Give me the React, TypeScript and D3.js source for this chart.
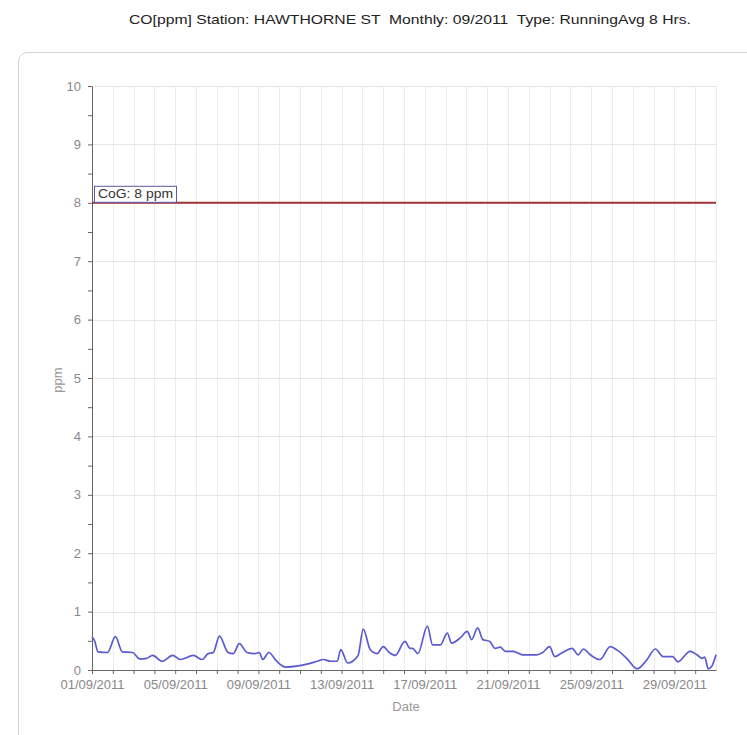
import React, { useEffect, useRef } from 'react';
import * as d3 from 'd3';

// hours since 01/09/2011 00:00 and the 8h running average (ppm)
const hours = [
  0, 3, 7, 18, 27, 35, 47, 55, 63, 70, 81, 93, 102, 117, 127, 134, 140, 147, 157, 163,
  170, 179, 188, 193, 197, 204, 213, 223, 238, 248, 260, 267, 275, 283, 287, 295, 307, 313,
  321, 329, 336, 343, 350, 361, 367, 370, 376, 387, 393, 402, 410, 415, 425, 433, 438, 445,
  451, 459, 465, 471, 477, 486, 497, 513, 520, 528, 534, 542, 554, 561, 567, 575, 586, 598,
  606, 617, 629, 640, 650, 659, 670, 676, 690, 698, 704, 707, 711, 715, 720,
];
const ppm = [
  0.57, 0.5, 0.31, 0.3, 0.57, 0.31, 0.3, 0.19, 0.2, 0.25, 0.15, 0.25, 0.18, 0.25, 0.18, 0.28, 0.3, 0.58, 0.3, 0.28,
  0.45, 0.3, 0.28, 0.3, 0.18, 0.3, 0.15, 0.05, 0.07, 0.1, 0.15, 0.18, 0.15, 0.15, 0.35, 0.12, 0.25, 0.7,
  0.35, 0.28, 0.4, 0.3, 0.25, 0.49, 0.37, 0.37, 0.28, 0.75, 0.43, 0.43, 0.63, 0.46, 0.55, 0.66, 0.52, 0.72,
  0.52, 0.49, 0.37, 0.39, 0.32, 0.32, 0.26, 0.26, 0.3, 0.4, 0.23, 0.29, 0.37, 0.26, 0.36, 0.26, 0.18, 0.4,
  0.34, 0.2, 0.02, 0.17, 0.36, 0.23, 0.23, 0.14, 0.32, 0.26, 0.2, 0.22, 0.02, 0.06, 0.26,
];
const yTicks = [0, 1, 2, 3, 4, 5, 6, 7, 8, 9, 10];
const dayTickLabels = ['01/09/2011', '05/09/2011', '09/09/2011', '13/09/2011', '17/09/2011', '21/09/2011', '25/09/2011', '29/09/2011'];
const limitValue = 8;
const limitLabel = 'CoG: 8 ppm';
const title = 'CO[ppm] Station: HAWTHORNE ST  Monthly: 09/2011  Type: RunningAvg 8 Hrs.';

const parseDay = d3.timeParse('%d/%m/%Y');

const App: React.FC = () => {
  const svgRef = useRef<SVGSVGElement>(null);

  useEffect(() => {
    if (!svgRef.current) return;
    const width = 747;
    const height = 735;
    const svg = d3.select(svgRef.current);
    svg.selectAll('*').remove();
    svg.attr('width', width).attr('height', height);

    const font = 'Arial, "Liberation Sans", sans-serif';
    const start = new Date(2011, 8, 1);
    const end = new Date(2011, 9, 1);

    const x = d3.scaleTime().domain([start, end]).range([92, 716]);
    const y = d3.scaleLinear().domain([0, 10]).range([670, 86]);

    // title
    svg.append('text')
      .attr('x', 410).attr('y', 24)
      .attr('text-anchor', 'middle')
      .attr('textLength', 562)
      .attr('lengthAdjust', 'spacingAndGlyphs')
      .style('white-space', 'pre')
      .style('font-family', font).style('font-size', '13.5px').style('fill', '#222')
      .text(title);

    // panel frame
    svg.append('rect')
      .attr('x', 18.5).attr('y', 52.5)
      .attr('width', 800).attr('height', 800)
      .attr('rx', 9)
      .style('fill', '#fff').style('stroke', '#d4d4d4');

    const days = d3.timeDay.range(start, end);

    // grid
    svg.append('g').selectAll('line')
      .data(days.slice(1).concat([end]))
      .join('line')
      .attr('x1', d => Math.round(x(d)) + 0.5).attr('x2', d => Math.round(x(d)) + 0.5)
      .attr('y1', y(10)).attr('y2', y(0))
      .style('stroke', '#ececec');
    svg.append('g').selectAll('line')
      .data(yTicks.slice(1))
      .join('line')
      .attr('x1', x(start)).attr('x2', x(end))
      .attr('y1', d => Math.round(y(d)) + 0.5).attr('y2', d => Math.round(y(d)) + 0.5)
      .style('stroke', '#e6e6e6');

    // y axis
    const yAxis = svg.append('g').attr('transform', `translate(${x(start)},0)`);
    yAxis.call(d3.axisLeft(y).tickValues(d3.range(0, 10.01, 0.5)).tickSize(4).tickSizeOuter(0)
      .tickFormat(d => (Number(d) % 1 === 0 ? String(d) : '')));
    yAxis.select('.domain').style('stroke', '#666');
    yAxis.selectAll('.tick line').style('stroke', '#666');
    yAxis.selectAll('.tick text').attr('x', -11)
      .style('font-family', font).style('font-size', '13px').style('fill', '#888');

    // x axis
    const labelDates = dayTickLabels.map(s => parseDay(s)!.getTime());
    const xAxis = svg.append('g').attr('transform', `translate(0,${y(0)})`);
    xAxis.call(d3.axisBottom(x).tickValues(days).tickSize(4).tickSizeOuter(0)
      .tickFormat(d => {
        const i = labelDates.indexOf((d as Date).getTime());
        return i >= 0 ? dayTickLabels[i] : '';
      }));
    xAxis.select('.domain').style('stroke', '#666');
    xAxis.selectAll('.tick line').style('stroke', '#666');
    xAxis.selectAll('.tick text').attr('y', 7).attr('dy', '0.9em')
      .style('font-family', font).style('font-size', '13px').style('fill', '#888');

    // axis titles
    svg.append('text')
      .attr('transform', `translate(62,${y(5) + 2}) rotate(-90)`)
      .attr('text-anchor', 'middle')
      .style('font-family', font).style('font-size', '13px').style('fill', '#999')
      .text('ppm');
    svg.append('text')
      .attr('x', 406).attr('y', 711)
      .attr('text-anchor', 'middle')
      .style('font-family', font).style('font-size', '13px').style('fill', '#999')
      .text('Date');

    // limit line
    svg.append('line')
      .attr('x1', x(start)).attr('x2', x(end))
      .attr('y1', y(limitValue)).attr('y2', y(limitValue))
      .style('stroke', '#a3323a').style('stroke-width', 2);
    const lbl = svg.append('g').attr('transform', `translate(${x(start) + 2},${y(limitValue) - 17})`);
    lbl.append('rect')
      .attr('x', 0.5).attr('y', 0.5).attr('width', 82).attr('height', 16)
      .style('fill', '#fff').style('stroke', '#5a5a9e');
    lbl.append('text')
      .attr('x', 4).attr('y', 12.5)
      .attr('textLength', 75)
      .attr('lengthAdjust', 'spacingAndGlyphs')
      .style('font-family', font).style('font-size', '12.5px').style('fill', '#333')
      .text(limitLabel);

    // data line
    const pts = hours.map((h, i) => ({ t: d3.timeHour.offset(start, h), v: ppm[i] }));
    const line = d3.line<{ t: Date; v: number }>()
      .x(d => x(d.t))
      .y(d => y(d.v))
      .curve(d3.curveMonotoneX);
    svg.append('path')
      .datum(pts)
      .attr('d', line)
      .style('fill', 'none')
      .style('stroke', '#5b5bd0')
      .style('stroke-width', 1.7);
  }, []);

  return <svg ref={svgRef} style={{ position: 'absolute', left: 0, top: 0 }}></svg>;
};

export default App;
